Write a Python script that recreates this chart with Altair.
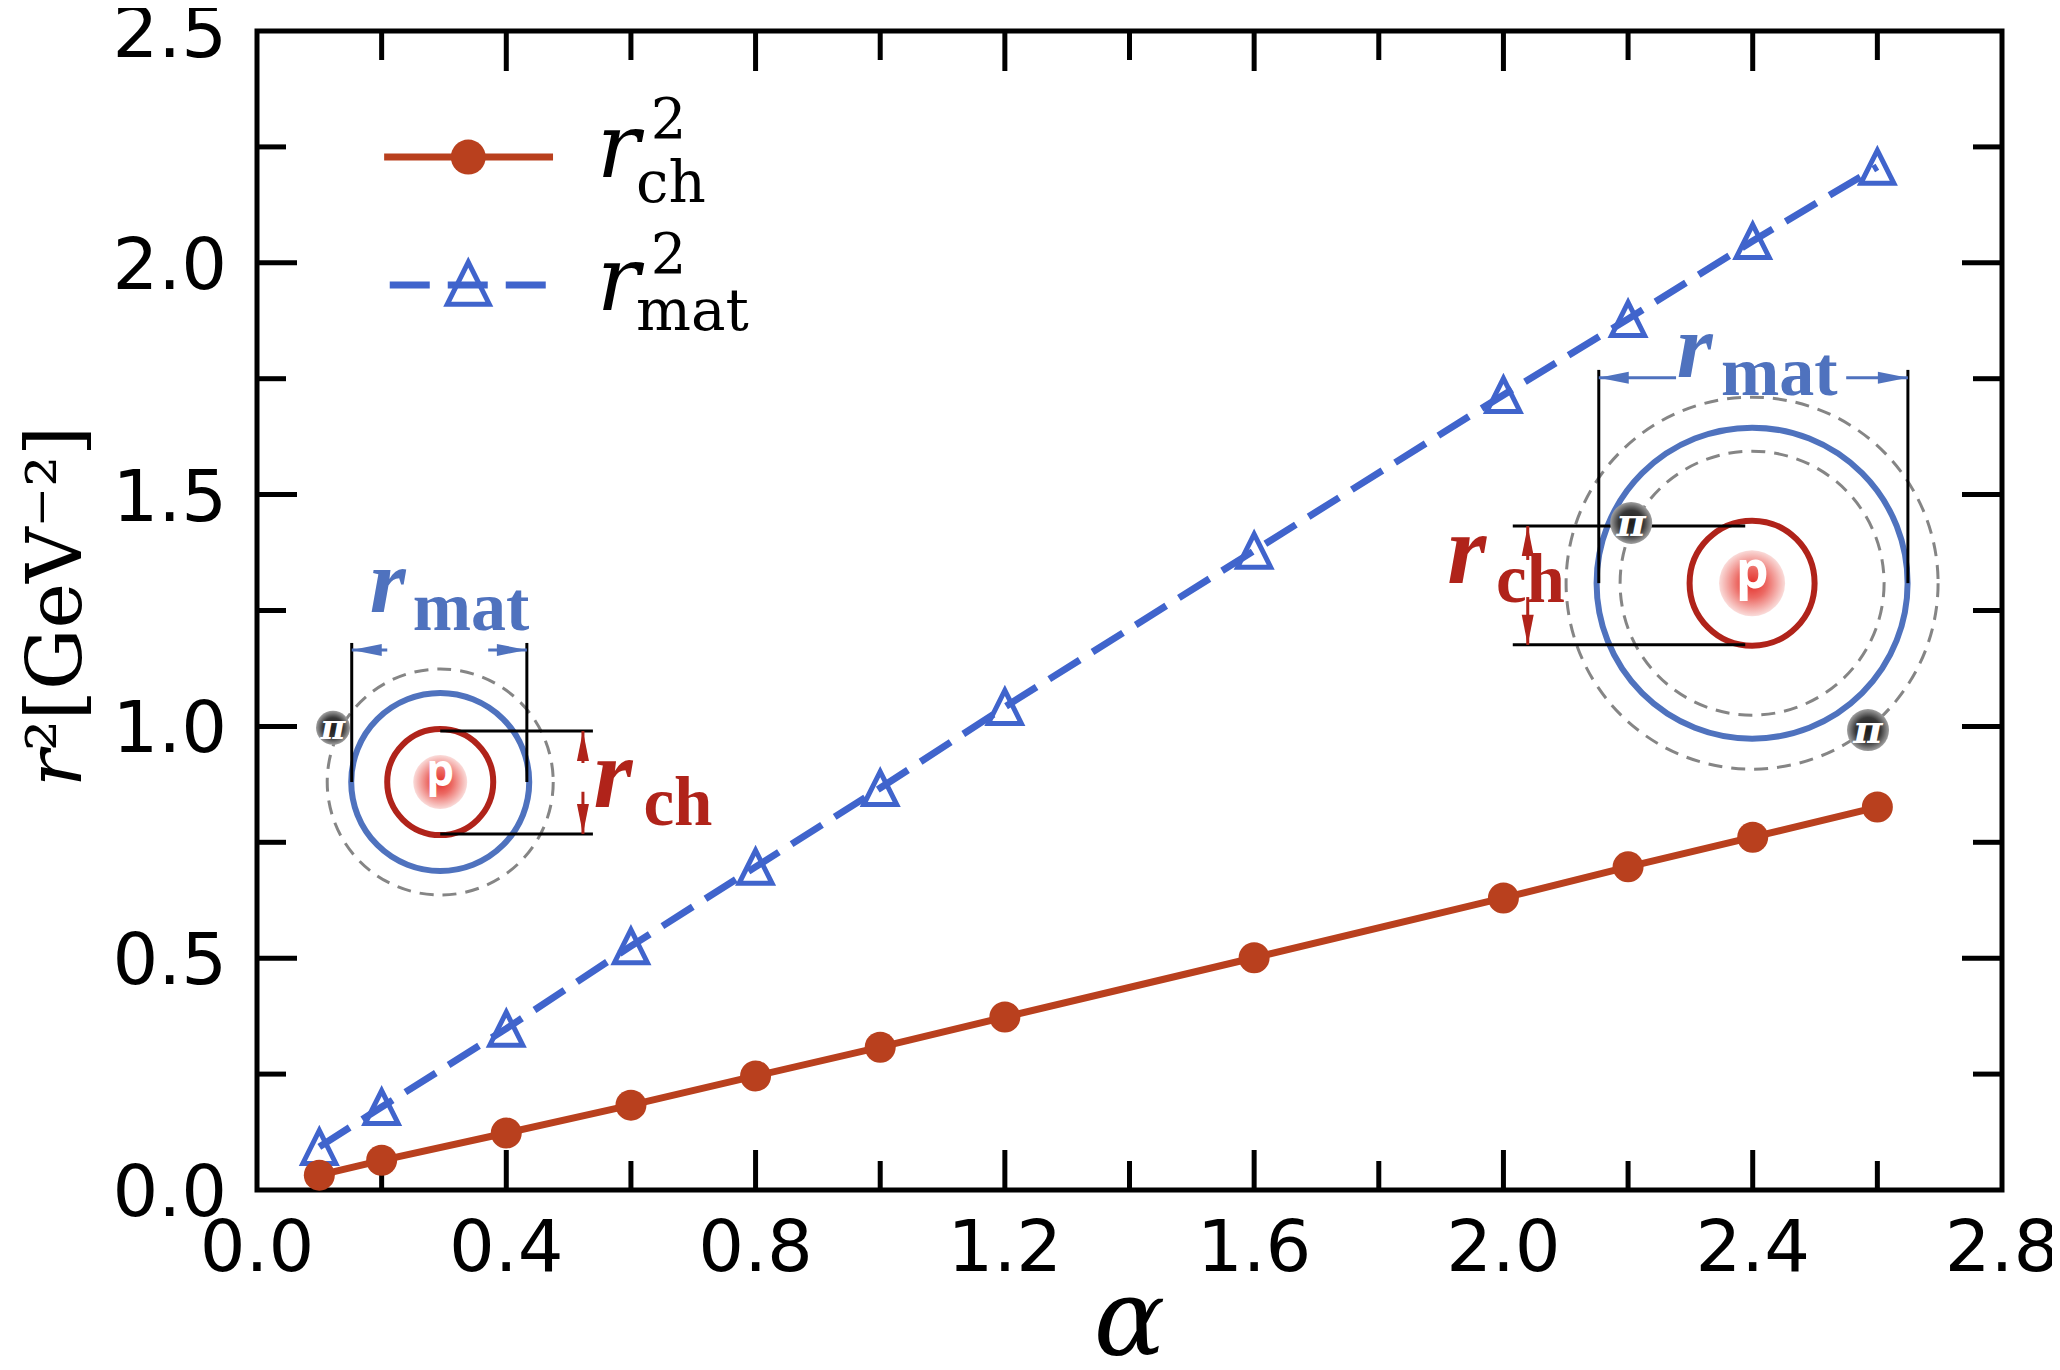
import altair as alt
import pandas as pd

# ---------------- data ----------------
alpha = [0.1, 0.2, 0.4, 0.6, 0.8, 1.0, 1.2, 1.6, 2.0, 2.2, 2.4, 2.6]
r2_ch = [0.032, 0.064, 0.123, 0.183, 0.246, 0.308, 0.373, 0.501, 0.630, 0.697, 0.761, 0.826]
r2_mat = [0.093, 0.179, 0.348, 0.526, 0.697, 0.867, 1.042, 1.379, 1.715, 1.879, 2.047, 2.207]

x_labels = [0.0, 0.4, 0.8, 1.2, 1.6, 2.0, 2.4, 2.8]
y_labels = [0.0, 0.5, 1.0, 1.5, 2.0, 2.5]
x_major = [0.4, 0.8, 1.2, 1.6, 2.0, 2.4]
x_minor = [0.2, 0.6, 1.0, 1.4, 1.8, 2.2, 2.6]
y_major = [0.5, 1.0, 1.5, 2.0]
y_minor = [0.25, 0.75, 1.25, 1.75, 2.25]

# annotation anchors (data units)
inset_cx = [0.294, 2.399]
inset_cy = [0.880, 1.309]
pion_x = [0.122, 2.205, 2.585]
pion_y = [0.997, 1.439, 0.992]

W, H = 1745, 1159
RED = "#B9401E"
BLUE = "#4064CC"
IBLUE = "#4F72BE"
IRED = "#B0231A"
GRAY = "#858585"

xs = alt.Scale(domain=[0, 2.8], nice=False, zero=False)
ys = alt.Scale(domain=[0, 2.5], nice=False, zero=False)


def enc_xy(xf="x", yf="y"):
    return dict(x=alt.X(f"{xf}:Q", scale=xs, axis=None),
                y=alt.Y(f"{yf}:Q", scale=ys, axis=None))


def df(**cols):
    return pd.DataFrame(cols)


def circle(cx, cy, d, color, sw, dash=None):
    kw = dict(shape="circle", filled=False, size=d * d, color=color,
              strokeWidth=sw, opacity=1)
    if dash:
        kw["strokeDash"] = dash
    return alt.Chart(df(x=[cx], y=[cy])).mark_point(**kw).encode(**enc_xy())


def grad_ball(cx, cy, d, stops):
    g = alt.RadialGradient(
        gradient="radial",
        stops=[alt.GradientStop(offset=o, color=c) for o, c in stops],
        x1=0.5, y1=0.5, r1=0, x2=0.5, y2=0.5, r2=0.5)
    return alt.Chart(df(x=[cx], y=[cy])).mark_point(
        shape="circle", filled=True, size=d * d, fill=g, strokeWidth=0,
        opacity=1).encode(**enc_xy())


def seg(x1, y1, x2, y2, color, sw):
    return alt.Chart(df(x=[x1], y=[y1], x2=[x2], y2=[y2])).mark_rule(
        color=color, strokeWidth=sw).encode(
        x=alt.X("x:Q", scale=xs, axis=None), x2="x2:Q",
        y=alt.Y("y:Q", scale=ys, axis=None), y2="y2:Q")


ARROW = {
    "left": "M0,0L2,-0.4L2,0.4Z",
    "right": "M0,0L-2,-0.4L-2,0.4Z",
    "up": "M0,0L-0.4,2L0.4,2Z",
    "down": "M0,0L-0.4,-2L0.4,-2Z",
}


def head(x, y, direction, color, L=30):
    return alt.Chart(df(x=[x], y=[y])).mark_point(
        shape=ARROW[direction], filled=True, size=L * L, color=color,
        strokeWidth=0, opacity=1).encode(**enc_xy())


def label(x, y, s, size, color="black", font="DejaVu Serif",
          weight="normal", style="normal", align="left",
          baseline="alphabetic", dy=0):
    return alt.Chart(df(x=[x], y=[y], t=[s])).mark_text(
        align=align, baseline=baseline, font=font, fontSize=size,
        fontWeight=weight, fontStyle=style, color=color, dy=dy).encode(
        **enc_xy(), text="t:N")


def pixel_text(px, py, s, size, angle=0, style="normal", align="left",
               font="DejaVu Serif"):
    return alt.Chart(df(t=[s])).mark_text(
        align=align, baseline="alphabetic", font=font, fontSize=size,
        fontStyle=style, angle=angle, color="black").encode(
        x=alt.value(px), y=alt.value(py), text="t:N")


data = pd.DataFrame({"alpha": alpha, "ch": r2_ch, "mat": r2_mat})

layers = []

# ---------------- inset diagrams ----------------
PROTON = [(0, "#E4302B"), (0.45, "#EC6A64"), (1, "#FADCDA")]
PION = [(0, "#1C1C1C"), (0.6, "#383838"), (1, "#A0A0A0")]

# left (small alpha)
lcx, lcy = inset_cx[0], inset_cy[0]
layers += [
    circle(lcx, lcy, 226, GRAY, 3, [14, 9]),
    circle(lcx, lcy, 178, IBLUE, 6),
    circle(lcx, lcy, 106, IRED, 6),
    grad_ball(lcx, lcy, 54, PROTON),
    label(lcx, lcy, "p", 44, "white", "Open Sans", "bold", align="center",
          baseline="middle", dy=-9),
    grad_ball(pion_x[0], pion_y[0], 34, PION),
    label(pion_x[0], pion_y[0], "π", 34, "white", "DejaVu Serif", "bold",
          "italic", align="center", baseline="middle", dy=1),
    seg(0.152, 0.880, 0.152, 1.180, "black", 3),
    seg(0.433, 0.880, 0.433, 1.180, "black", 3),
    seg(0.152, 1.165, 0.209, 1.165, IBLUE, 3),
    seg(0.371, 1.165, 0.433, 1.165, IBLUE, 3),
    head(0.152, 1.165, "left", IBLUE),
    head(0.433, 1.165, "right", IBLUE),
    seg(0.294, 0.990, 0.539, 0.990, "black", 3),
    seg(0.294, 0.768, 0.539, 0.768, "black", 3),
    seg(0.523, 0.990, 0.523, 0.921, IRED, 3),
    seg(0.523, 0.859, 0.523, 0.768, IRED, 3),
    head(0.523, 0.990, "up", IRED),
    head(0.523, 0.768, "down", IRED),
    label(0.181, 1.247, "r", 92, IBLUE, "Liberation Serif", "bold", "italic"),
    label(0.250, 1.208, "mat", 70, IBLUE, "Liberation Serif", "bold"),
    label(0.540, 0.826, "r", 100, IRED, "Liberation Serif", "bold", "italic"),
    label(0.620, 0.787, "ch", 69, IRED, "Liberation Serif", "bold"),
]

# right (large alpha)
rcx, rcy = inset_cx[1], inset_cy[1]
layers += [
    circle(rcx, rcy, 372, GRAY, 3, [14, 9]),
    circle(rcx, rcy, 264, GRAY, 3, [14, 9]),
    circle(rcx, rcy, 311, IBLUE, 6),
    circle(rcx, rcy, 125, IRED, 6),
    grad_ball(rcx, rcy, 66, PROTON),
    label(rcx, rcy, "p", 52, "white", "Open Sans", "bold", align="center",
          baseline="middle", dy=-11),
    seg(2.153, 1.309, 2.153, 1.769, "black", 3),
    seg(2.649, 1.309, 2.649, 1.769, "black", 3),
    seg(2.153, 1.752, 2.277, 1.752, IBLUE, 3),
    seg(2.550, 1.752, 2.649, 1.752, IBLUE, 3),
    head(2.153, 1.752, "left", IBLUE),
    head(2.649, 1.752, "right", IBLUE),
    seg(2.015, 1.432, 2.388, 1.432, "black", 3),
    seg(2.015, 1.176, 2.388, 1.176, "black", 3),
    seg(2.039, 1.432, 2.039, 1.359, IRED, 3),
    seg(2.039, 1.279, 2.039, 1.176, IRED, 3),
    head(2.039, 1.432, "up", IRED),
    head(2.039, 1.176, "down", IRED),
    grad_ball(pion_x[1], pion_y[1], 42, PION),
    label(pion_x[1], pion_y[1], "π", 40, "white", "DejaVu Serif", "bold",
          "italic", align="center", baseline="middle", dy=1),
    grad_ball(pion_x[2], pion_y[2], 42, PION),
    label(pion_x[2], pion_y[2], "π", 40, "white", "DejaVu Serif", "bold",
          "italic", align="center", baseline="middle", dy=1),
    label(2.278, 1.754, "r", 92, IBLUE, "Liberation Serif", "bold", "italic"),
    label(2.349, 1.715, "mat", 70, IBLUE, "Liberation Serif", "bold"),
    label(1.910, 1.309, "r", 100, IRED, "Liberation Serif", "bold", "italic"),
    label(1.988, 1.268, "ch", 69, IRED, "Liberation Serif", "bold"),
]

# ---------------- inward ticks on all four sides ----------------
def xticks(vals, length):
    d = df(v=vals)
    base = alt.Chart(d).mark_rule(color="black", strokeWidth=5)
    xe = alt.X("v:Q", scale=xs, axis=None)
    return [base.encode(x=xe, y=alt.value(H), y2=alt.value(H - length)),
            base.encode(x=xe, y=alt.value(0), y2=alt.value(length))]


def yticks(vals, length):
    d = df(v=vals)
    base = alt.Chart(d).mark_rule(color="black", strokeWidth=5)
    ye = alt.Y("v:Q", scale=ys, axis=None)
    return [base.encode(y=ye, x=alt.value(0), x2=alt.value(length)),
            base.encode(y=ye, x=alt.value(W), x2=alt.value(W - length))]


layers += xticks(x_major, 40) + xticks(x_minor, 29)
layers += yticks(y_major, 40) + yticks(y_minor, 29)

# ---------------- tick labels (placed through the scales) ----------------
layers += [
    alt.Chart(df(v=x_labels)).mark_text(
        align="center", baseline="alphabetic", font="DejaVu Sans",
        fontSize=72, color="black").encode(
        x=alt.X("v:Q", scale=xs, axis=None), y=alt.value(H + 81),
        text=alt.Text("v:Q", format=".1f")),
    alt.Chart(df(v=y_labels)).mark_text(
        align="right", baseline="alphabetic", font="DejaVu Sans",
        fontSize=72, color="black", dy=26).encode(
        y=alt.Y("v:Q", scale=ys, axis=None), x=alt.value(-30),
        text=alt.Text("v:Q", format=".1f")),
]

# ---------------- data series ----------------
blue_line = alt.Chart(data).mark_line(
    color=BLUE, strokeWidth=7, strokeDash=[36, 15]).encode(
    x=alt.X("alpha:Q", scale=xs, axis=None),
    y=alt.Y("mat:Q", scale=ys, axis=None))
blue_pts = alt.Chart(data).mark_point(
    shape="M0,-1L1,1L-1,1Z", filled=False, size=33 * 33, color=BLUE,
    strokeWidth=5, opacity=1).encode(
    x=alt.X("alpha:Q", scale=xs, axis=None),
    y=alt.Y("mat:Q", scale=ys, axis=None))
red_line = alt.Chart(data).mark_line(color=RED, strokeWidth=7).encode(
    x=alt.X("alpha:Q", scale=xs, axis=None),
    y=alt.Y("ch:Q", scale=ys, axis=None))
red_pts = alt.Chart(data).mark_point(
    shape="circle", filled=True, size=31 * 31, color=RED, opacity=1).encode(
    x=alt.X("alpha:Q", scale=xs, axis=None),
    y=alt.Y("ch:Q", scale=ys, axis=None))

layers += [blue_line, blue_pts, red_line, red_pts]

# ---------------- legend (drawn by hand for the sub/superscripts) ----------------
legend = [
    seg(0.204, 2.228, 0.475, 2.228, RED, 7),
    alt.Chart(df(x=[0.339], y=[2.228])).mark_point(
        shape="circle", filled=True, size=35 * 35, color=RED, opacity=1
    ).encode(**enc_xy()),
    alt.Chart(df(x=[0.213, 0.465], y=[1.952, 1.952])).mark_line(
        color=BLUE, strokeWidth=7, strokeDash=[40, 18]).encode(**enc_xy()),
    alt.Chart(df(x=[0.339], y=[1.956])).mark_point(
        shape="M0,-1L1,1L-1,1Z", filled=False, size=42 * 42, color=BLUE,
        strokeWidth=5, opacity=1).encode(**enc_xy()),
    label(0.545, 2.185, "r", 90, style="italic"),
    label(0.632, 2.269, "2", 56),
    label(0.608, 2.131, "ch", 58),
    label(0.545, 1.898, "r", 90, style="italic"),
    label(0.632, 1.978, "2", 56),
    label(0.608, 1.855, "mat", 58),
]
layers += legend

# ---------------- axis titles ----------------
layers += [
    pixel_text(W / 2, H + 165, "α", 106, style="italic", align="center"),
    pixel_text(-176, 756, "r", 77, angle=270, style="italic"),
    pixel_text(-176, 720, "²[GeV⁻²]", 77, angle=270),
]

chart = alt.layer(*layers).properties(
    width=W, height=H,
    autosize=alt.AutoSizeParams(type="none"),
    padding={"left": 249, "top": 23, "right": 50, "bottom": 172},
    background="white",
).configure_view(stroke="black", strokeWidth=5)

chart.save("out.html", embed_options={"renderer": "svg", "actions": False})
